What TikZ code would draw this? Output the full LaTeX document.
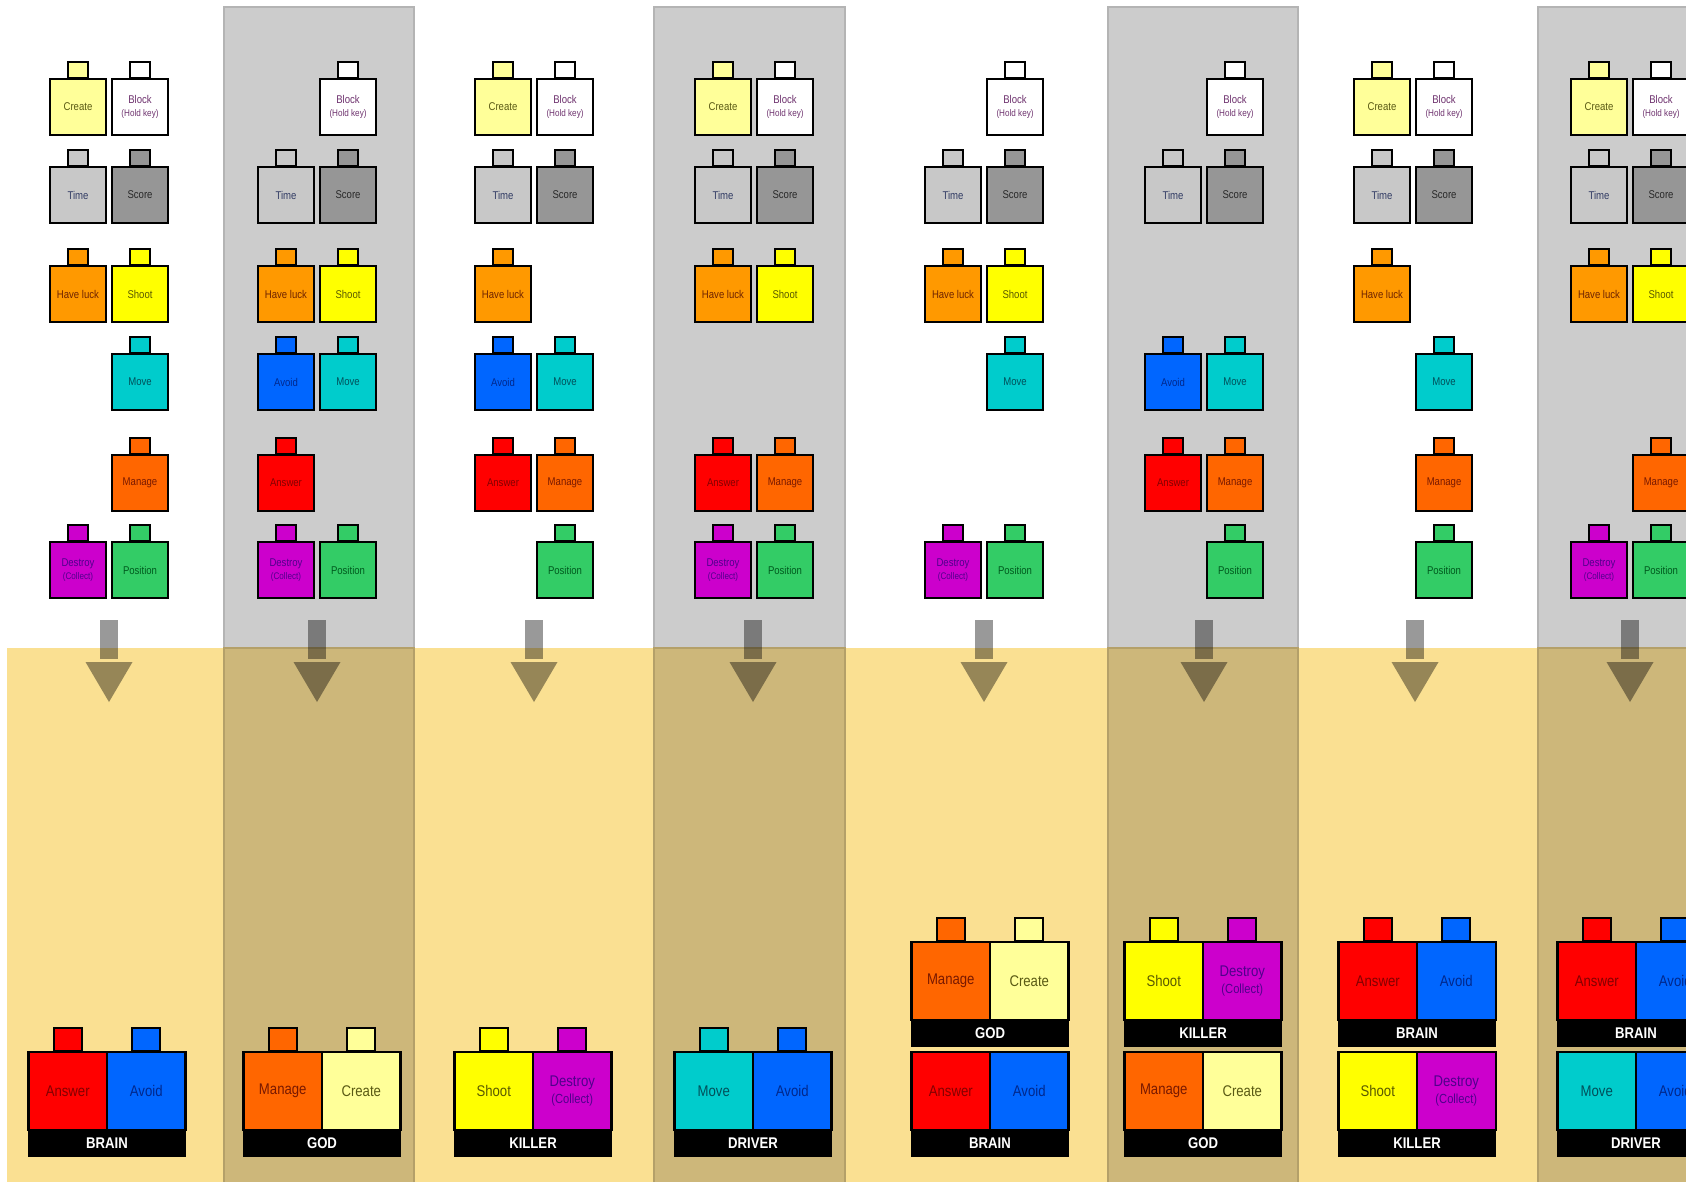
\documentclass[tikz,border=0pt]{standalone}
\usepackage{fontspec}
\setmainfont{Liberation Sans}[FakeStretch=0.85]
\usepackage{tikz}
\usetikzlibrary{positioning}

% brick colours: f = fill, t = text
\definecolor{fCreate}{RGB}{255,255,153}   \definecolor{tCreate}{RGB}{90,90,20}
\definecolor{fBlock}{RGB}{255,255,255}    \definecolor{tBlock}{RGB}{110,50,110}
\definecolor{fTime}{RGB}{200,200,200}     \definecolor{tTime}{RGB}{50,60,100}
\definecolor{fScore}{RGB}{150,150,150}    \definecolor{tScore}{RGB}{40,40,40}
\definecolor{fLuck}{RGB}{255,153,0}       \definecolor{tLuck}{RGB}{110,35,0}
\definecolor{fShoot}{RGB}{255,255,0}      \definecolor{tShoot}{RGB}{90,90,0}
\definecolor{fAvoid}{RGB}{0,102,255}      \definecolor{tAvoid}{RGB}{0,40,140}
\definecolor{fMove}{RGB}{0,204,204}       \definecolor{tMove}{RGB}{0,80,90}
\definecolor{fAnswer}{RGB}{255,0,0}       \definecolor{tAnswer}{RGB}{130,0,0}
\definecolor{fManage}{RGB}{255,102,0}     \definecolor{tManage}{RGB}{120,25,0}
\definecolor{fDestroy}{RGB}{204,0,204}    \definecolor{tDestroy}{RGB}{80,0,140}
\definecolor{fPosition}{RGB}{51,204,102}  \definecolor{tPosition}{RGB}{0,90,30}

\definecolor{bandGray}{RGB}{204,204,204}
\definecolor{bandGrayLine}{RGB}{180,180,180}
\definecolor{bandYellow}{RGB}{250,224,146}
\definecolor{bandTan}{RGB}{205,183,122}
\definecolor{bandTanLine}{RGB}{180,160,105}

\newcommand{\lblCreate}{Create}
\newcommand{\lblBlock}{Block\\\scalebox{0.85}{(Hold key)}}
\newcommand{\lblTime}{Time}
\newcommand{\lblScore}{Score}
\newcommand{\lblLuck}{Have luck}
\newcommand{\lblShoot}{Shoot}
\newcommand{\lblAvoid}{Avoid}
\newcommand{\lblMove}{Move}
\newcommand{\lblAnswer}{Answer}
\newcommand{\lblManage}{Manage}
\newcommand{\lblDestroy}{Destroy\\\scalebox{0.85}{(Collect)}}
\newcommand{\lblPosition}{Position}

\begin{document}
\begin{tikzpicture}[
  x=0.01cm, y=-0.01cm,
  % every node/.style={font=\small},
  brick/.style={draw=black, line width=0.5pt, fill=f#1, text=t#1,
    minimum width=0.56cm, minimum height=0.56cm, inner sep=0pt,
    align=center, font=\fontsize{3.2}{3.6}\selectfont},
  brickTab/.style={draw=black, line width=0.5pt, fill=f#1,
    minimum width=0.2cm, minimum height=0.16cm, inner sep=0pt},
  side L/.style={xshift=-0.31cm},
  side R/.style={xshift=0.31cm},
  arrowFill/.style={fill=black, fill opacity=0.4},
]

\tikzset{
  cell/.style={draw=black, line width=0.6pt, fill=f#1, text=t#1,
    minimum width=0.785cm, minimum height=0.78cm, inner sep=0pt,
    align=center, font=\fontsize{4.4}{4.8}\selectfont},
  cellTab/.style={draw=black, line width=0.6pt, fill=f#1,
    minimum width=0.28cm, minimum height=0.23cm, inner sep=0pt},
  strip/.style={fill=black, text=white, minimum width=1.57cm,
    minimum height=0.27cm, inner sep=0pt,
    font=\bfseries\fontsize{4.4}{4.8}\selectfont}
}

\useasboundingbox (0,0) rectangle (1686,1181);
\clip (0,0) rectangle (1686,1181);
\fill[white] (0,0) rectangle (1686,1181);

% --- Bands ---
\foreach \xa/\xb in {224/414, 654/845, 1108/1298, 1538/1730} {
  \filldraw[fill=bandGray, draw=bandGrayLine, line width=0.6pt] (\xa,7) rectangle (\xb,1190);
}
\fill[bandYellow] (7,648) rectangle (1700,1190);
\foreach \xa/\xb in {224/414, 654/845, 1108/1298, 1538/1730} {
  \filldraw[fill=bandTan, draw=bandTanLine, line width=0.6pt] (\xa,648) rectangle (\xb,1190);
}

% --- Arrows ---
\foreach \c/\cx in {1/109,2/317,3/534,4/753,5/984,6/1204,7/1415,8/1630} {
  \fill[arrowFill] (\cx-9,620) rectangle (\cx+9,659);
  \fill[arrowFill] (\cx-23.5,662) -- (\cx+23.5,662) -- (\cx,702) -- cycle;
}

% --- Small bricks: column/row/side/kind ---
\foreach \c/\r/\s/\t in {
  1/1/L/Create,1/1/R/Block,1/2/L/Time,1/2/R/Score,1/3/L/Luck,1/3/R/Shoot,1/4/R/Move,1/5/R/Manage,1/6/L/Destroy,1/6/R/Position,
  2/1/R/Block,2/2/L/Time,2/2/R/Score,2/3/L/Luck,2/3/R/Shoot,2/4/L/Avoid,2/4/R/Move,2/5/L/Answer,2/6/L/Destroy,2/6/R/Position,
  3/1/L/Create,3/1/R/Block,3/2/L/Time,3/2/R/Score,3/3/L/Luck,3/4/L/Avoid,3/4/R/Move,3/5/L/Answer,3/5/R/Manage,3/6/R/Position,
  4/1/L/Create,4/1/R/Block,4/2/L/Time,4/2/R/Score,4/3/L/Luck,4/3/R/Shoot,4/5/L/Answer,4/5/R/Manage,4/6/L/Destroy,4/6/R/Position,
  5/1/R/Block,5/2/L/Time,5/2/R/Score,5/3/L/Luck,5/3/R/Shoot,5/4/R/Move,5/6/L/Destroy,5/6/R/Position,
  6/1/R/Block,6/2/L/Time,6/2/R/Score,6/4/L/Avoid,6/4/R/Move,6/5/L/Answer,6/5/R/Manage,6/6/R/Position,
  7/1/L/Create,7/1/R/Block,7/2/L/Time,7/2/R/Score,7/3/L/Luck,7/4/R/Move,7/5/R/Manage,7/6/R/Position,
  8/1/L/Create,8/1/R/Block,8/2/L/Time,8/2/R/Score,8/3/L/Luck,8/3/R/Shoot,8/5/R/Manage,8/6/L/Destroy,8/6/R/Position} {
  \pgfmathsetmacro{\cx}{{109,317,534,754,984,1204,1413,1630}[\c-1]}
  \pgfmathsetmacro{\ry}{{107,195,294,382,483,570}[\r-1]}
  \node[brick=\t, side \s] (c\c-\r\s) at (\cx,\ry) {\csname lbl\t\endcsname};
  \node[brickTab=\t, above=-0.25pt of c\c-\r\s] (c\c-\r\s-t) {};
}

% --- Robots ---
\foreach \c/\bx/\yb/\k/\pl/\pr/\tabs in {
  1/107/1157/BRAIN/Answer/Avoid/1,
  2/322/1157/GOD/Manage/Create/1,
  3/533/1157/KILLER/Shoot/Destroy/1,
  4/753/1157/DRIVER/Move/Avoid/1,
  5/990/1047/GOD/Manage/Create/1,
  5/990/1157/BRAIN/Answer/Avoid/0,
  6/1203/1047/KILLER/Shoot/Destroy/1,
  6/1203/1157/GOD/Manage/Create/0,
  7/1417/1047/BRAIN/Answer/Avoid/1,
  7/1417/1157/KILLER/Shoot/Destroy/0,
  8/1636/1047/BRAIN/Answer/Avoid/1,
  8/1636/1157/DRIVER/Move/Avoid/0} {
  \node[strip] (u\c\k) at (\bx,\yb-13.5) {\k};
  \node[cell=\pl] (u\c\k-L) at (\bx-39.25,\yb-66) {\csname lbl\pl\endcsname};
  \node[cell=\pr] (u\c\k-R) at (\bx+39.25,\yb-66) {\csname lbl\pr\endcsname};
  \ifnum\tabs=1
    \node[cellTab=\pl, above=-0.3pt of u\c\k-L] (u\c\k-Lt) {};
    \node[cellTab=\pr, above=-0.3pt of u\c\k-R] (u\c\k-Rt) {};
  \fi
}

\end{tikzpicture}
\end{document}
